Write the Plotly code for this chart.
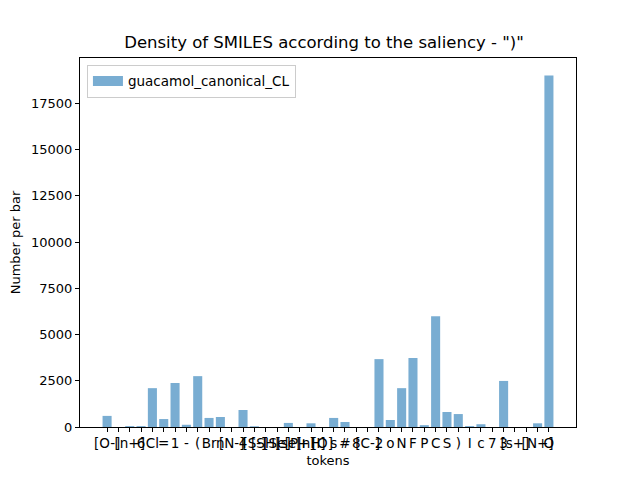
import plotly.graph_objects as go

# tokens on the x axis (in plotted order)
tokens = ["[O-]", " ", "[n+]", "6", "Cl", "=", "1", "-", "(", "Br",
          "n", "[N-]", "4", "[S-]", "[SH]", "[Se]", "[se]", "[P+]", "[nH]", "[O]",
          "s", "#", "8", "[C-]", "2", "o", "N", "F", "P", "C",
          "S", ")", "I", "c", "7", "3", "[s+]", "  ", "[N+]", "O"]
# number per bar
counts = [600, 0, 50, 50, 2100, 430, 2380, 120, 2750, 490,
          540, 0, 920, 40, 0, 0, 220, 0, 200, 0,
          490, 270, 0, 0, 3670, 380, 2100, 3730, 100, 5990,
          810, 700, 50, 150, 0, 2490, 0, 0, 200, 19000]
ytick_vals = [0, 2500, 5000, 7500, 10000, 12500, 15000, 17500]

font = "DejaVu Sans"
bar_color = "rgba(31,119,180,0.6)"

bar = go.Bar(x=tokens, y=counts, name="guacamol_canonical_CL",
             marker=dict(color=bar_color, line=dict(width=0)),
             width=0.8, showlegend=False)
# legend entry drawn as a wide patch like matplotlib's
patch = go.Scatter(x=[None], y=[None], mode="lines", name="guacamol_canonical_CL",
                   line=dict(color=bar_color, width=10))
fig = go.Figure([bar, patch])

# page body has an 8px margin, so the figure is 8px smaller and margins shifted
fig.update_layout(
    width=632, height=472,
    paper_bgcolor="white", plot_bgcolor="white",
    margin=dict(l=72, r=64, t=50, b=53),
    font=dict(family=font, size=13, color="black"),
    title=dict(text='Density of SMILES according to the saliency - ")"',
               x=0.5, xanchor="center", y=0.928, yanchor="middle",
               font=dict(size=16.5)),
    legend=dict(x=0.014, y=0.982, xanchor="left", yanchor="top",
                bgcolor="rgba(255,255,255,0.8)", bordercolor="#cccccc",
                borderwidth=1, font=dict(size=13.5)),
    bargap=0.2,
)
fig.update_xaxes(
    type="category", range=[-2.39, 41.39], automargin=False,
    tickmode="array", tickvals=tokens, ticktext=tokens,
    title=dict(text="tokens", standoff=5, font=dict(size=13)),
    showline=True, linecolor="black", linewidth=1, mirror=True,
    ticks="outside", ticklen=4, tickcolor="black", showgrid=False,
    tickangle=0, tickfont=dict(size=13.5),
)
fig.update_yaxes(
    range=[0, 19950], automargin=False,
    tickvals=ytick_vals, ticktext=[str(v) for v in ytick_vals],
    title=dict(text="Number per bar", standoff=12, font=dict(size=13)),
    showline=True, linecolor="black", linewidth=1, mirror=True,
    ticks="outside", ticklen=4, tickcolor="black", showgrid=False,
    zeroline=False, tickfont=dict(size=13),
)

fig.write_html("out.html")
